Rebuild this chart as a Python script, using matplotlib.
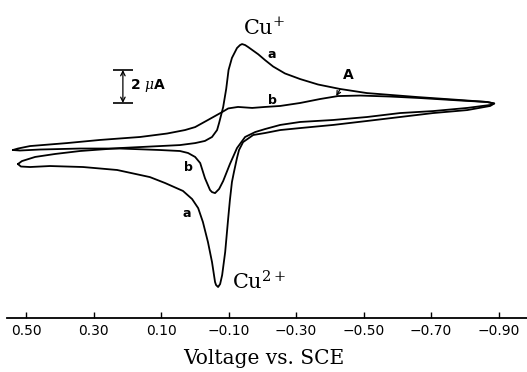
import matplotlib.pyplot as plt

# ---------------------------------------------------------------------------
# Data (potential in V vs. SCE, current in uA)
# ---------------------------------------------------------------------------

# curve a: forward sweep (towards negative potential), upper branch
a_fwd_v = [0.524, 0.512, 0.473, 0.414, 0.340, 0.221, 0.103, 0.044, -0.001,
           -0.030, -0.051, -0.066, -0.072, -0.078, -0.084, -0.093, -0.100,
           -0.110, -0.125, -0.134, -0.140, -0.149, -0.158, -0.188, -0.208,
           -0.232, -0.267, -0.312, -0.365, -0.430, -0.510, -0.659, -0.786,
           -0.866, -0.887]
a_fwd_i = [-0.85, -0.67, -0.42, -0.24, -0.06, 0.12, 0.24, 0.30, 0.42,
           0.55, 0.79, 1.21, 1.64, 2.12, 2.60, 3.70, 4.85,
           5.58, 6.18, 6.36, 6.42, 6.36, 6.24, 5.80, 5.45,
           5.06, 4.64, 4.30, 3.97, 3.70, 3.45, 3.21, 3.03,
           2.91, 2.82]
# curve a: return sweep, lower branch
a_rev_v = [-0.887, -0.875, -0.807, -0.706, -0.608, -0.510, -0.410, -0.312,
           -0.253, -0.208, -0.173, -0.143, -0.131, -0.125, -0.116, -0.110,
           -0.104, -0.099, -0.090, -0.081, -0.075, -0.069, -0.063, -0.060,
           -0.051, -0.039, -0.024, -0.010, 0.008, 0.035, 0.088, 0.133, 0.230,
           0.331, 0.429, 0.488, 0.515, 0.524]
a_rev_i = [2.82, 2.67, 2.42, 2.24, 2.00, 1.76, 1.52, 1.33,
           1.21, 1.03, 0.91, 0.48, 0.00, -0.48, -1.33, -1.94,
           -3.03, -4.12, -6.18, -7.58, -8.12, -8.30, -8.18, -8.00,
           -6.79, -5.58, -4.36, -3.52, -2.97, -2.48, -2.00, -1.64, -1.21,
           -1.03, -0.97, -1.03, -1.00, -0.85]

# curve b: forward sweep
b_fwd_v = [0.539, 0.524, 0.488, 0.379, 0.281, 0.162, 0.082, 0.029, -0.001,
           -0.039, -0.060, -0.081, -0.099, -0.128, -0.170, -0.208, -0.253,
           -0.312, -0.371, -0.424, -0.490, -0.579, -0.667, -0.786, -0.866,
           -0.887]
b_fwd_i = [0.00, 0.09, 0.24, 0.42, 0.61, 0.79, 1.00, 1.21, 1.39,
           1.82, 2.06, 2.30, 2.52, 2.61, 2.55, 2.61, 2.67,
           2.85, 3.09, 3.27, 3.30, 3.24, 3.15, 3.00, 2.91,
           2.82]
# curve b: return sweep
b_rev_v = [-0.887, -0.875, -0.807, -0.706, -0.608, -0.510, -0.410, -0.312,
           -0.253, -0.208, -0.179, -0.149, -0.125, -0.104, -0.084, -0.072,
           -0.060, -0.051, -0.045, -0.030, -0.016, -0.001, 0.020, 0.044,
           0.103, 0.221, 0.340, 0.459, 0.518, 0.539]
b_rev_i = [2.82, 2.73, 2.55, 2.36, 2.24, 2.00, 1.82, 1.70,
           1.52, 1.27, 1.09, 0.79, 0.12, -0.85, -1.88, -2.36,
           -2.61, -2.55, -2.42, -1.70, -0.79, -0.42, -0.18, -0.06,
           0.00, 0.09, 0.09, 0.03, -0.03, 0.00]

tick_volts = [0.50, 0.30, 0.10, -0.10, -0.30, -0.50, -0.70, -0.90]
tick_labels = ['0.50', '0.30', '0.10', '\u22120.10', '\u22120.30',
               '\u22120.50', '\u22120.70', '\u22120.90']

scale_bar_ua = 2.0

# ---------------------------------------------------------------------------
# Figure
# ---------------------------------------------------------------------------

plt.rcParams['mathtext.fontset'] = 'dejavuserif'

fig = plt.figure(figsize=(5.27, 3.72), dpi=100)
ax = fig.add_axes([0, 0, 1, 1])
ax.set_xlim(0.577, -0.984)
ax.set_ylim(-13.45, 9.09)

line_kw = dict(color='black', lw=1.3, solid_capstyle='round',
               solid_joinstyle='round')
ax.plot(a_fwd_v + a_rev_v, a_fwd_i + a_rev_i, **line_kw)
ax.plot(b_fwd_v + b_rev_v, b_fwd_i + b_rev_i, **line_kw)

# potential axis drawn as a free-floating bottom spine
for side in ('left', 'right', 'top'):
    ax.spines[side].set_visible(False)
ax.spines['bottom'].set_position(('data', -10.18))
ax.spines['bottom'].set_bounds(0.556, -0.984)
ax.spines['bottom'].set_linewidth(1.3)
ax.set_yticks([])
ax.set_xticks(tick_volts)
ax.set_xticklabels(tick_labels)
ax.tick_params(axis='x', direction='in', length=4.5, width=1.0, pad=4,
               labelsize=10)
ax.set_xlabel('Voltage vs. SCE', family='DejaVu Serif', fontsize=14.5,
              labelpad=8)

# species labels
ax.text(-0.143, 6.97, r'Cu$^{+}$', family='DejaVu Serif', fontsize=15,
        ha='left', va='baseline')
ax.text(-0.110, -8.48, r'Cu$^{2+}$', family='DejaVu Serif', fontsize=15,
        ha='left', va='baseline')

# curve labels
lab_kw = dict(fontsize=9, fontweight='bold', ha='center', va='center')
ax.text(-0.228, 5.80, 'a', **lab_kw)
ax.text(-0.229, 3.03, 'b', **lab_kw)
ax.text(0.020, -1.03, 'b', **lab_kw)
ax.text(0.023, -3.82, 'a', **lab_kw)
ax.annotate('A', xy=(-0.419, 3.27), xytext=(-0.454, 4.55),
            fontsize=10, fontweight='bold', ha='center', va='center',
            arrowprops=dict(arrowstyle='->', color='black', lw=0.9,
                            shrinkA=4, shrinkB=0, mutation_scale=7))

# 2 uA scale bar
bar_v, bar_low = 0.213, 2.85
bar_high = bar_low + scale_bar_ua
ax.annotate('', xy=(bar_v, bar_high), xytext=(bar_v, bar_low),
            arrowprops=dict(arrowstyle='<->', color='black', lw=0.9,
                            shrinkA=0, shrinkB=0, mutation_scale=8))
ax.hlines([bar_low, bar_high], 0.243, 0.184, color='black', lw=1.2)
ax.text(0.192, (bar_low + bar_high) / 2 + 0.05, r'2 $\mu$A', fontsize=10,
        fontweight='bold', ha='left', va='center')

fig.savefig('out.png', dpi=100)
